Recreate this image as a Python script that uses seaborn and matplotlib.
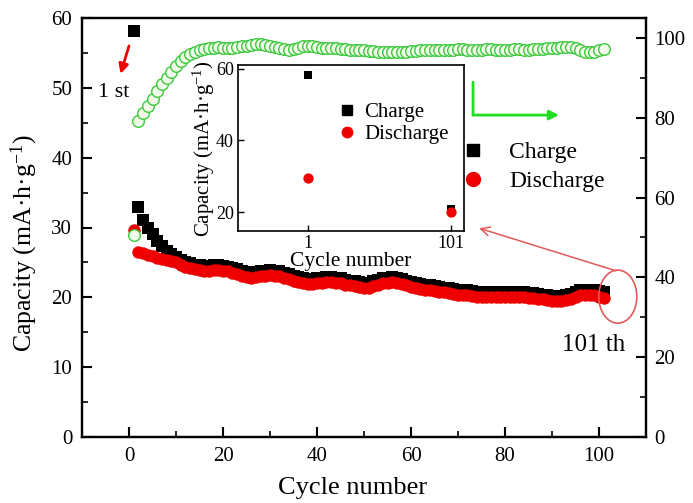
import numpy as np
import pandas as pd
import seaborn as sns
import matplotlib
matplotlib.use("Agg")
import matplotlib.pyplot as plt
from matplotlib.lines import Line2D
from matplotlib.patches import Ellipse
from matplotlib.ticker import MultipleLocator

# ---------------- data ----------------
cycles = list(range(1, 102))
charge = [58.2, 33.0, 31.1, 30.0, 29.0, 28.1, 27.3, 26.7, 26.2, 25.8,
          25.4, 25.1, 24.9, 24.7, 24.6, 24.5, 24.5, 24.6, 24.6, 24.5,
          24.4, 24.2, 24.0, 23.8, 23.6, 23.5, 23.6, 23.7, 23.8, 23.9,
          23.8, 23.7, 23.5, 23.3, 23.1, 22.9, 22.7, 22.6, 22.6, 22.7,
          22.8, 22.9, 22.9, 22.8, 22.7, 22.5, 22.4, 22.3, 22.2, 22.1,
          22.1, 22.3, 22.5, 22.7, 22.8, 22.9, 22.8, 22.6, 22.4, 22.2,
          22.0, 21.9, 21.8, 21.7, 21.6, 21.5, 21.4, 21.3, 21.2, 21.1,
          21.0, 21.0, 20.9, 20.8, 20.8, 20.7, 20.7, 20.7, 20.7, 20.7,
          20.7, 20.7, 20.7, 20.7, 20.6, 20.6, 20.5, 20.4, 20.3, 20.2,
          20.2, 20.2, 20.3, 20.5, 20.8, 21.0, 21.1, 21.1, 21.0, 20.9,
          20.8]
discharge = [29.6, 26.5, 26.3, 26.1, 25.9, 25.7, 25.5, 25.4, 25.2, 25.0,
             24.7, 24.4, 24.2, 24.0, 23.9, 23.8, 23.8, 23.9, 23.9, 23.8,
             23.7, 23.5, 23.3, 23.1, 22.9, 22.8, 22.9, 23.0, 23.1, 23.2,
             23.1, 23.0, 22.8, 22.6, 22.4, 22.2, 22.0, 21.9, 21.9, 22.0,
             22.1, 22.2, 22.2, 22.1, 22.0, 21.8, 21.7, 21.6, 21.5, 21.4,
             21.4, 21.6, 21.8, 22.0, 22.1, 22.2, 22.1, 21.9, 21.7, 21.5,
             21.3, 21.2, 21.1, 21.0, 20.9, 20.8, 20.7, 20.6, 20.5, 20.4,
             20.3, 20.3, 20.2, 20.1, 20.1, 20.0, 20.0, 20.0, 20.0, 20.0,
             20.0, 20.0, 20.0, 20.0, 19.9, 19.9, 19.8, 19.7, 19.6, 19.5,
             19.5, 19.5, 19.6, 19.8, 20.1, 20.3, 20.4, 20.4, 20.3, 20.1,
             19.9]
efficiency = [50.5, 79.2, 81.3, 83.0, 84.8, 86.7, 88.4, 90.0, 91.5, 92.9,
              94.1, 95.2, 96.0, 96.6, 97.0, 97.3, 97.5, 97.6, 97.7, 97.6,
              97.5, 97.6, 97.8, 97.9, 98.0, 98.2, 98.4, 98.5, 98.3, 98.0,
              97.7, 97.4, 97.2, 97.1, 97.3, 97.6, 97.9, 98.1, 98.0, 97.8,
              97.6, 97.5, 97.4, 97.4, 97.3, 97.2, 97.1, 97.0, 97.0, 96.9,
              96.8, 96.7, 96.6, 96.5, 96.5, 96.4, 96.4, 96.5, 96.6, 96.7,
              96.8, 96.9, 97.0, 97.0, 97.1, 97.1, 97.0, 97.0, 97.1, 97.2,
              97.2, 97.1, 97.0, 97.0, 97.1, 97.2, 97.2, 97.1, 97.0, 97.0,
              97.1, 97.2, 97.2, 97.1, 97.1, 97.2, 97.3, 97.3, 97.4, 97.5,
              97.6, 97.7, 97.8, 97.7, 97.4, 97.0, 96.6, 96.4, 96.6, 97.0,
              97.2]

inset_cycles = [cycles[0], cycles[-1]]
inset_charge = [charge[0], charge[-1]]
inset_discharge = [discharge[0], discharge[-1]]
inset_xticks = [1, 101]

df = pd.DataFrame({"cycle": cycles, "charge": charge,
                   "discharge": discharge, "eff": efficiency})
dfi = pd.DataFrame({"cycle": inset_cycles, "charge": inset_charge,
                    "discharge": inset_discharge})

# ---------------- style ----------------
sns.set_style("ticks")
plt.rcParams["font.family"] = ["Liberation Serif", "DejaVu Serif"]
plt.rcParams["mathtext.fontset"] = "custom"
plt.rcParams["mathtext.rm"] = "Liberation Serif"
plt.rcParams["mathtext.it"] = "Liberation Serif:italic"
plt.rcParams["mathtext.default"] = "regular"
for k in ["text.color", "axes.labelcolor", "xtick.color", "ytick.color",
          "axes.edgecolor"]:
    plt.rcParams[k] = "black"

RED = "#ee0000"
GREEN_E = "#3cc83c"
GREEN_F = "#f2fbe9"

fig = plt.figure(figsize=(6.93, 5.03), dpi=100)
ax = fig.add_axes([82/693, 1-437/503, (646-82)/693, (437-18)/503])

sns.scatterplot(data=df, x="cycle", y="charge", ax=ax, marker="s", s=72,
                color="black", edgecolor="black", linewidth=0, zorder=3)
sns.scatterplot(data=df, x="cycle", y="discharge", ax=ax, marker="o", s=80,
                color=RED, edgecolor=RED, linewidth=0, zorder=4)

ax.set_xlim(-10, 110)
ax.set_ylim(0, 60)
ax.xaxis.set_major_locator(MultipleLocator(20))
ax.xaxis.set_minor_locator(MultipleLocator(10))
ax.yaxis.set_major_locator(MultipleLocator(10))
ax.yaxis.set_minor_locator(MultipleLocator(5))
ax.tick_params(which="major", direction="in", length=7, width=1.5,
               labelsize=15, pad=7, top=False, right=False)
ax.tick_params(which="minor", direction="in", length=4, width=1.2,
               top=False, right=False)
for sp in ax.spines.values():
    sp.set_linewidth(1.6)
    sp.set_visible(True)
ax.set_xlabel("Cycle number", fontsize=19)
ax.set_ylabel("Capacity (mA·h·g$^{-1}$)", fontsize=18.5)
ax.xaxis.set_label_coords(0.479, -0.095)
ax.yaxis.set_label_coords(-0.074, 0.463)

# right axis: coulombic efficiency
ax2 = ax.twinx()
sns.scatterplot(data=df, x="cycle", y="eff", ax=ax2, marker="o", s=70,
                facecolor=GREEN_F, edgecolor=GREEN_E, linewidth=1.0, zorder=5)
ax2.set_ylim(0, 105)
ax2.yaxis.set_major_locator(MultipleLocator(20))
ax2.yaxis.set_minor_locator(MultipleLocator(10))
ax2.tick_params(which="major", direction="in", length=7, width=1.5,
                labelsize=15, pad=6)
ax2.tick_params(which="minor", direction="in", length=4, width=1.2)
ax2.set_ylabel("")
for sp in ax2.spines.values():
    sp.set_linewidth(1.6)

# annotations
ax.annotate("", xy=(-1.8, 52.0), xytext=(0.0, 56.0),
            arrowprops=dict(arrowstyle="-|>", color=RED, lw=2,
                            mutation_scale=14, shrinkA=0, shrinkB=0),
            zorder=6)
ax.text(-6.6, 49.4, "1 st", fontsize=16, ha="left", va="center")

ax.annotate("", xy=(73.2, 46.1), xytext=(73.2, 50.8),
            arrowprops=dict(arrowstyle="-", color="#22dd22", lw=2,
                            shrinkA=0, shrinkB=0))
ax.annotate("", xy=(91.5, 46.1), xytext=(73.2, 46.1),
            arrowprops=dict(arrowstyle="-|>", color="#22dd22", lw=2,
                            mutation_scale=14, shrinkA=0, shrinkB=0))

ell = Ellipse((104.0, 20.1), width=8.1, height=7.6, fill=False,
              edgecolor="#e05a5a", lw=1.2, clip_on=False, zorder=6)
ax.add_patch(ell)
ax.annotate("", xy=(74.5, 29.9), xytext=(103.6, 23.8),
            arrowprops=dict(arrowstyle="->", color="#e05a5a", lw=1.1,
                            mutation_scale=16, shrinkA=0, shrinkB=0),
            zorder=6)
ax.text(98.8, 13.2, "101 th", fontsize=18, ha="center", va="center")

# main legend
h_main = [Line2D([], [], ls="", marker="s", ms=9, color="black"),
          Line2D([], [], ls="", marker="o", ms=10, color=RED, mec=RED)]
fig.legend(h_main, ["Charge", "Discharge"], loc="center left",
           bbox_to_anchor=(461/693, 1-167/503), frameon=False,
           fontsize=17, handlelength=1.0, handletextpad=1.05,
           borderpad=0, borderaxespad=0, labelspacing=0.3)

# ---------------- inset ----------------
axi = fig.add_axes([238/693, 1-231/503, (464-238)/693, (231-65)/503])
axi.set_facecolor("white")
axi.set_zorder(10)
sns.scatterplot(data=dfi, x="cycle", y="charge", ax=axi, marker="s", s=40,
                color="black", edgecolor="black", linewidth=0, zorder=3)
sns.scatterplot(data=dfi, x="cycle", y="discharge", ax=axi, marker="o", s=55,
                color=RED, edgecolor=RED, linewidth=0, zorder=4)
axi.set_xlim(-48, 110)
axi.set_ylim(14.7, 61.1)
axi.set_xticks(inset_xticks)
axi.yaxis.set_major_locator(MultipleLocator(20))
axi.tick_params(direction="in", length=4, width=1.0, labelsize=13, pad=3)
for sp in axi.spines.values():
    sp.set_linewidth(1.2)
    sp.set_visible(True)
axi.set_xlabel("Cycle number", fontsize=15.5, labelpad=0)
axi.set_ylabel("Capacity (mA·h·g$^{-1}$)", fontsize=15, labelpad=0)
axi.yaxis.set_label_coords(-0.095, 0.494)

h_in = [Line2D([], [], ls="", marker="s", ms=6.5, color="black"),
        Line2D([], [], ls="", marker="o", ms=7.5, color=RED, mec=RED)]
axi.legend(h_in, ["Charge", "Discharge"], loc="center left",
           bbox_to_anchor=(341/693, 1-123.5/503),
           bbox_transform=fig.transFigure, frameon=False,
           fontsize=15, handlelength=0.6, handletextpad=0.5,
           borderpad=0, borderaxespad=0, labelspacing=0.1)

fig.savefig("out.png", dpi=100)
